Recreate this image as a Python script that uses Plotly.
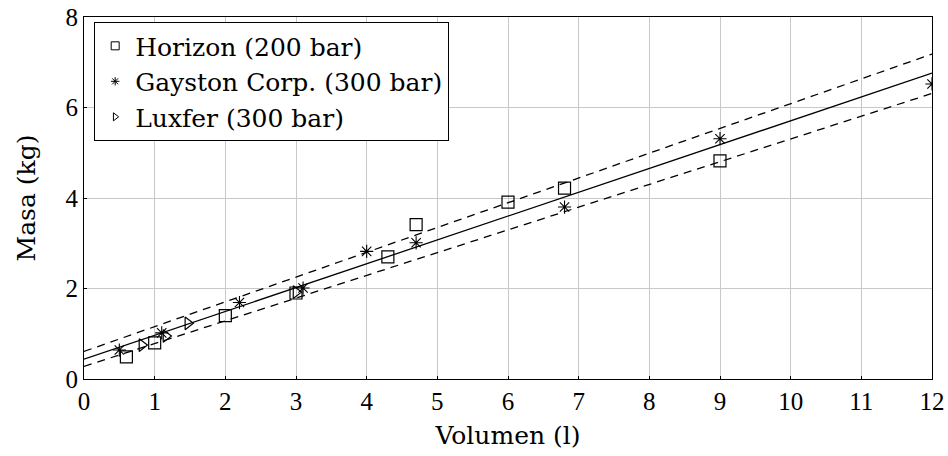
import plotly.graph_objects as go

# Horizon (200 bar)
hor_x = [0.6, 1.0, 2.0, 3.0, 4.3, 4.7, 6.0, 6.8, 9.0]
hor_y = [0.49, 0.80, 1.40, 1.90, 2.70, 3.41, 3.91, 4.22, 4.82]
# Gayston Corp. (300 bar)
gay_x = [0.5, 1.1, 2.2, 3.1, 4.0, 4.7, 6.8, 9.0, 12.0]
gay_y = [0.64, 1.02, 1.69, 2.01, 2.82, 3.01, 3.80, 5.31, 6.52]
# Luxfer (300 bar)
lux_x = [0.82, 1.16, 1.47, 3.0]
lux_y = [0.75, 0.95, 1.23, 1.92]
# Fit line and band (endpoints)
fit_x = [0, 12]
fit_y = [0.44, 6.76]
upper_y = [0.61, 7.18]
lower_y = [0.28, 6.31]

tick_font = "Times New Roman"
text_font = "DejaVu Serif"

fig = go.Figure()
fig.add_trace(go.Scatter(x=fit_x, y=fit_y, mode="lines", line=dict(color="black", width=1.3),
                         showlegend=False, hoverinfo="skip"))
fig.add_trace(go.Scatter(x=fit_x, y=upper_y, mode="lines", line=dict(color="black", width=1.3, dash="8px,6px"),
                         showlegend=False, hoverinfo="skip"))
fig.add_trace(go.Scatter(x=fit_x, y=lower_y, mode="lines", line=dict(color="black", width=1.3, dash="8px,6px"),
                         showlegend=False, hoverinfo="skip"))
fig.add_trace(go.Scatter(x=hor_x, y=hor_y, mode="markers", showlegend=False,
                         marker=dict(symbol="square-open", size=12, color="black", line=dict(width=1.2))))
fig.add_trace(go.Scatter(x=gay_x, y=gay_y, mode="markers", showlegend=False,
                         marker=dict(symbol="asterisk-open", size=11, color="black", line=dict(width=1.1))))
fig.add_trace(go.Scatter(x=lux_x, y=lux_y, mode="markers", showlegend=False,
                         marker=dict(symbol="triangle-right-open", size=11, color="black", line=dict(width=1.2))))

# legend-only entries with small markers
fig.add_trace(go.Scatter(x=[None], y=[None], mode="markers", name="Horizon (200 bar)",
                         marker=dict(symbol="square-open", size=8, color="black", line=dict(width=1))))
fig.add_trace(go.Scatter(x=[None], y=[None], mode="markers", name="Gayston Corp. (300 bar)",
                         marker=dict(symbol="asterisk-open", size=7, color="black", line=dict(width=1))))
fig.add_trace(go.Scatter(x=[None], y=[None], mode="markers", name="Luxfer (300 bar)",
                         marker=dict(symbol="triangle-right-open", size=7, color="black", line=dict(width=1))))

axis_common = dict(showline=True, linecolor="black", linewidth=1, mirror=True,
                   showgrid=True, gridcolor="#c8c8c8", gridwidth=1, zeroline=False,
                   ticks="inside", ticklen=3, tickcolor="black", automargin=False,
                   tickfont=dict(size=25, family=tick_font, color="black"))

fig.update_layout(
    width=948, height=456,
    margin=dict(l=84, r=16, t=17, b=77),
    paper_bgcolor="white", plot_bgcolor="white",
    font=dict(family=text_font, color="black", size=24),
    xaxis=dict(range=[0, 12], tickvals=list(range(13)),
               title=dict(text="Volumen (l)", font=dict(size=25, family=text_font), standoff=12),
               **axis_common),
    yaxis=dict(range=[0, 8], tickvals=[0, 2, 4, 6, 8],
               title=dict(text="Masa (kg)", font=dict(size=25, family=text_font), standoff=22),
               **axis_common),
    legend=dict(x=0.012, y=0.986, xanchor="left", yanchor="top",
                bgcolor="white", bordercolor="black", borderwidth=1,
                font=dict(size=25, family=text_font, color="black"), itemwidth=30,
                tracegroupgap=0),
)

fig.write_html("out.html")
